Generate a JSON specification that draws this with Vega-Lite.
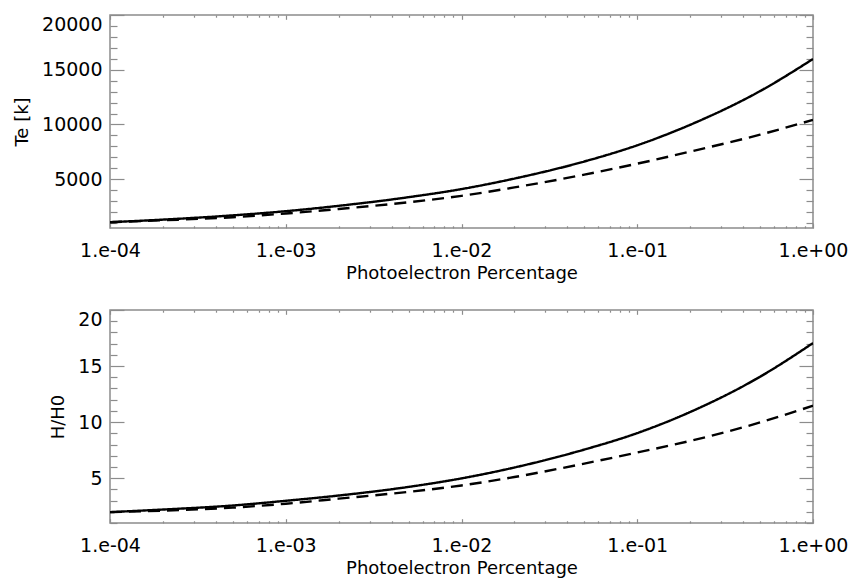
{
  "$schema": "https://vega.github.io/schema/vega-lite/v6.json",
  "background": "white",
  "padding": {"left": 12, "top": 13, "right": 30, "bottom": 0},
  "spacing": 24,
  "config": {
    "font": "DejaVu Sans",
    "view": {"stroke": "#8c8c8c", "strokeWidth": 1.5},
    "axis": {
      "grid": false,
      "domain": false,
      "tickColor": "#8c8c8c",
      "tickWidth": 1.2,
      "labelColor": "black",
      "labelFont": "DejaVu Sans",
      "labelFontSize": 19,
      "labelFontWeight": "normal",
      "labelOverlap": false,
      "labelFlush": false,
      "titleFont": "DejaVu Sans",
      "titleFontSize": 18,
      "titleFontWeight": "normal",
      "titleColor": "black"
    }
  },
  "datasets": {
    "te": [
      {"p": 0.0001, "v": 1075, "s": "solid"},
      {"p": 0.0002, "v": 1310, "s": "solid"},
      {"p": 0.0005, "v": 1700, "s": "solid"},
      {"p": 0.001, "v": 2080, "s": "solid"},
      {"p": 0.002, "v": 2570, "s": "solid"},
      {"p": 0.005, "v": 3360, "s": "solid"},
      {"p": 0.01, "v": 4100, "s": "solid"},
      {"p": 0.02, "v": 5060, "s": "solid"},
      {"p": 0.05, "v": 6620, "s": "solid"},
      {"p": 0.1, "v": 8100, "s": "solid"},
      {"p": 0.2, "v": 9970, "s": "solid"},
      {"p": 0.5, "v": 13050, "s": "solid"},
      {"p": 1, "v": 15980, "s": "solid"},
      {"p": 0.0001, "v": 1075, "s": "dashed"},
      {"p": 0.0002, "v": 1250, "s": "dashed"},
      {"p": 0.0005, "v": 1530, "s": "dashed"},
      {"p": 0.001, "v": 1870, "s": "dashed"},
      {"p": 0.002, "v": 2280, "s": "dashed"},
      {"p": 0.005, "v": 2900, "s": "dashed"},
      {"p": 0.01, "v": 3480, "s": "dashed"},
      {"p": 0.02, "v": 4250, "s": "dashed"},
      {"p": 0.05, "v": 5420, "s": "dashed"},
      {"p": 0.1, "v": 6420, "s": "dashed"},
      {"p": 0.2, "v": 7520, "s": "dashed"},
      {"p": 0.5, "v": 9070, "s": "dashed"},
      {"p": 1, "v": 10420, "s": "dashed"}
    ],
    "h": [
      {"p": 0.0001, "v": 1.97, "s": "solid"},
      {"p": 0.0002, "v": 2.2, "s": "solid"},
      {"p": 0.0005, "v": 2.56, "s": "solid"},
      {"p": 0.001, "v": 2.98, "s": "solid"},
      {"p": 0.002, "v": 3.45, "s": "solid"},
      {"p": 0.005, "v": 4.22, "s": "solid"},
      {"p": 0.01, "v": 4.98, "s": "solid"},
      {"p": 0.02, "v": 5.95, "s": "solid"},
      {"p": 0.05, "v": 7.55, "s": "solid"},
      {"p": 0.1, "v": 9.02, "s": "solid"},
      {"p": 0.2, "v": 10.9, "s": "solid"},
      {"p": 0.5, "v": 14.05, "s": "solid"},
      {"p": 1, "v": 17.05, "s": "solid"},
      {"p": 0.0001, "v": 1.97, "s": "dashed"},
      {"p": 0.0002, "v": 2.1, "s": "dashed"},
      {"p": 0.0005, "v": 2.37, "s": "dashed"},
      {"p": 0.001, "v": 2.72, "s": "dashed"},
      {"p": 0.002, "v": 3.17, "s": "dashed"},
      {"p": 0.005, "v": 3.78, "s": "dashed"},
      {"p": 0.01, "v": 4.35, "s": "dashed"},
      {"p": 0.02, "v": 5.1, "s": "dashed"},
      {"p": 0.05, "v": 6.3, "s": "dashed"},
      {"p": 0.1, "v": 7.29, "s": "dashed"},
      {"p": 0.2, "v": 8.32, "s": "dashed"},
      {"p": 0.5, "v": 9.97, "s": "dashed"},
      {"p": 1, "v": 11.46, "s": "dashed"}
    ]
  },
  "vconcat": [
    {
      "width": 703,
      "height": 213,
      "data": {"name": "te"},
      "layer": [
        {
          "mark": {"type": "line", "color": "black", "strokeWidth": 2.4, "clip": true, "interpolate": "monotone"},
          "encoding": {
            "x": {
              "field": "p", "type": "quantitative",
              "scale": {"type": "log", "domain": [0.0001, 1], "nice": false},
              "axis": {
                "orient": "bottom",
                "title": "Photoelectron Percentage",
                "titlePadding": 2,
                "values": [0.0001,0.0002,0.0003,0.0004,0.0005,0.0006,0.0007,0.0008,0.0009,0.001,0.002,0.003,0.004,0.005,0.006,0.007,0.008,0.009,0.01,0.02,0.03,0.04,0.05,0.06,0.07,0.08,0.09,0.1,0.2,0.3,0.4,0.5,0.6,0.7,0.8,0.9,1],
                "labelExpr": "datum.value == 0.0001 ? '1.e-04' : datum.value == 0.001 ? '1.e-03' : datum.value == 0.01 ? '1.e-02' : datum.value == 0.1 ? '1.e-01' : datum.value == 1 ? '1.e+00' : ''",
                "tickSize": {"condition": {"test": "datum.value == 0.0001 || datum.value == 0.001 || datum.value == 0.01 || datum.value == 0.1 || datum.value == 1", "value": -4.3}, "value": -2.2},
                "labelPadding": 18
              }
            },
            "y": {
              "field": "v", "type": "quantitative",
              "scale": {"domain": [545, 20000], "nice": false, "zero": false},
              "axis": {
                "title": "Te [k]",
                "titlePadding": 10,
                "values": [1000,2000,3000,4000,5000,6000,7000,8000,9000,10000,11000,12000,13000,14000,15000,16000,17000,18000,19000,20000],
                "labelExpr": "datum.value % 5000 == 0 ? format(datum.value, 'd') : ''",
                "tickSize": {"condition": {"test": "datum.value % 5000 == 0", "value": -14}, "value": -7},
                "labelBaseline": {"condition": {"test": "datum.value == 20000", "value": "top"}, "value": "middle"},
                "labelPadding": 22
              }
            },
            "strokeDash": {
              "field": "s", "type": "nominal",
              "scale": {"domain": ["solid", "dashed"], "range": [[1, 0], [12, 7]]},
              "legend": null
            }
          }
        },
        {
          "mark": {"type": "line", "opacity": 0},
          "encoding": {
            "x": {
              "field": "p", "type": "quantitative",
              "axis": {
                "orient": "top", "title": null, "labels": false,
                "values": [0.0001,0.0002,0.0003,0.0004,0.0005,0.0006,0.0007,0.0008,0.0009,0.001,0.002,0.003,0.004,0.005,0.006,0.007,0.008,0.009,0.01,0.02,0.03,0.04,0.05,0.06,0.07,0.08,0.09,0.1,0.2,0.3,0.4,0.5,0.6,0.7,0.8,0.9,1],
                "tickSize": {"condition": {"test": "datum.value == 0.0001 || datum.value == 0.001 || datum.value == 0.01 || datum.value == 0.1 || datum.value == 1", "value": -4.3}, "value": -2.2}
              }
            },
            "y": {
              "field": "v", "type": "quantitative",
              "axis": {
                "orient": "right", "title": null, "labels": false,
                "values": [1000,2000,3000,4000,5000,6000,7000,8000,9000,10000,11000,12000,13000,14000,15000,16000,17000,18000,19000,20000],
                "tickSize": {"condition": {"test": "datum.value % 5000 == 0", "value": -14}, "value": -7}
              }
            },
            "detail": {"field": "s", "type": "nominal"}
          }
        }
      ],
      "resolve": {"axis": {"x": "independent", "y": "independent"}}
    },
    {
      "width": 703,
      "height": 213,
      "data": {"name": "h"},
      "layer": [
        {
          "mark": {"type": "line", "color": "black", "strokeWidth": 2.4, "clip": true, "interpolate": "monotone"},
          "encoding": {
            "x": {
              "field": "p", "type": "quantitative",
              "scale": {"type": "log", "domain": [0.0001, 1], "nice": false},
              "axis": {
                "orient": "bottom",
                "title": "Photoelectron Percentage",
                "titlePadding": 2,
                "values": [0.0001,0.0002,0.0003,0.0004,0.0005,0.0006,0.0007,0.0008,0.0009,0.001,0.002,0.003,0.004,0.005,0.006,0.007,0.008,0.009,0.01,0.02,0.03,0.04,0.05,0.06,0.07,0.08,0.09,0.1,0.2,0.3,0.4,0.5,0.6,0.7,0.8,0.9,1],
                "labelExpr": "datum.value == 0.0001 ? '1.e-04' : datum.value == 0.001 ? '1.e-03' : datum.value == 0.01 ? '1.e-02' : datum.value == 0.1 ? '1.e-01' : datum.value == 1 ? '1.e+00' : ''",
                "tickSize": {"condition": {"test": "datum.value == 0.0001 || datum.value == 0.001 || datum.value == 0.01 || datum.value == 0.1 || datum.value == 1", "value": -4.3}, "value": -2.2},
                "labelPadding": 18
              }
            },
            "y": {
              "field": "v", "type": "quantitative",
              "scale": {"domain": [1, 20], "nice": false, "zero": false},
              "axis": {
                "title": "H/H0",
                "titlePadding": 10,
                "values": [1,2,3,4,5,6,7,8,9,10,11,12,13,14,15,16,17,18,19,20],
                "labelExpr": "datum.value % 5 == 0 ? format(datum.value, 'd') : ''",
                "tickSize": {"condition": {"test": "datum.value % 5 == 0", "value": -14}, "value": -7},
                "labelBaseline": {"condition": {"test": "datum.value == 20", "value": "top"}, "value": "middle"},
                "labelPadding": 22
              }
            },
            "strokeDash": {
              "field": "s", "type": "nominal",
              "scale": {"domain": ["solid", "dashed"], "range": [[1, 0], [12, 7]]},
              "legend": null
            }
          }
        },
        {
          "mark": {"type": "line", "opacity": 0},
          "encoding": {
            "x": {
              "field": "p", "type": "quantitative",
              "axis": {
                "orient": "top", "title": null, "labels": false,
                "values": [0.0001,0.0002,0.0003,0.0004,0.0005,0.0006,0.0007,0.0008,0.0009,0.001,0.002,0.003,0.004,0.005,0.006,0.007,0.008,0.009,0.01,0.02,0.03,0.04,0.05,0.06,0.07,0.08,0.09,0.1,0.2,0.3,0.4,0.5,0.6,0.7,0.8,0.9,1],
                "tickSize": {"condition": {"test": "datum.value == 0.0001 || datum.value == 0.001 || datum.value == 0.01 || datum.value == 0.1 || datum.value == 1", "value": -4.3}, "value": -2.2}
              }
            },
            "y": {
              "field": "v", "type": "quantitative",
              "axis": {
                "orient": "right", "title": null, "labels": false,
                "values": [1,2,3,4,5,6,7,8,9,10,11,12,13,14,15,16,17,18,19,20],
                "tickSize": {"condition": {"test": "datum.value % 5 == 0", "value": -14}, "value": -7}
              }
            },
            "detail": {"field": "s", "type": "nominal"}
          }
        }
      ],
      "resolve": {"axis": {"x": "independent", "y": "independent"}}
    }
  ]
}
